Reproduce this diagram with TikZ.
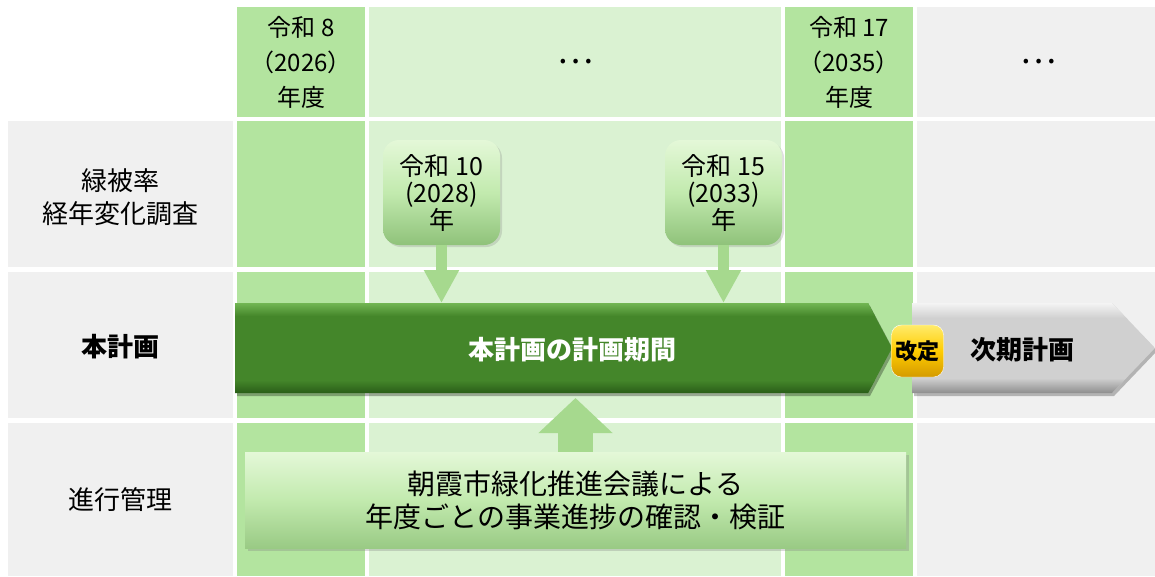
\documentclass[tikz,border=0pt]{standalone}
\usepackage{fontspec}
\setmainfont{Noto Sans CJK JP}
\usetikzlibrary{arrows.meta,shadows}

\definecolor{cellA}{HTML}{B3E49F}
\definecolor{cellB}{HTML}{DAF2D2}
\definecolor{cellG}{HTML}{F0F0F0}
\definecolor{barTop}{HTML}{72B653}
\definecolor{barMid}{HTML}{44862A}
\definecolor{barBot}{HTML}{2A5E18}
\definecolor{greyTop}{HTML}{F4F4F4}
\definecolor{greyMid}{HTML}{D0D0D0}
\definecolor{greyBot}{HTML}{8E8E8E}
\definecolor{calTop}{HTML}{E4F8D8}
\definecolor{calMid}{HTML}{C2EAAE}
\definecolor{calBot}{HTML}{8FC27A}
\definecolor{arrGreen}{HTML}{A6D98E}
\definecolor{goldTop}{HTML}{FFEB6B}
\definecolor{goldMid}{HTML}{FFCC00}
\definecolor{goldBot}{HTML}{D49A00}

\begin{document}
\begin{tikzpicture}[x=1pt, y=-1pt,
  yearhead/.style={font=\fontsize{24}{35}\selectfont, align=center},
  dots/.style={font=\fontsize{34}{36}\selectfont},
  rowlabel/.style={font=\fontsize{26}{33}\selectfont, align=center},
  barlabel/.style={font=\fontsize{26}{30}\selectfont\bfseries},
  callout/.style={rounded corners=16pt, minimum width=117pt, minimum height=105pt,
    top color=calTop, bottom color=calBot, middle color=calMid, inner sep=0pt,
    drop shadow={opacity=0.25, shadow xshift=2pt, shadow yshift=-2pt},
    font=\fontsize{25}{27}\selectfont, align=center},
  checkbox/.style={minimum width=661pt, minimum height=96pt,
    top color=calTop, bottom color=calBot!80!calMid, middle color=calMid,
    drop shadow={opacity=0.3, shadow xshift=3pt, shadow yshift=-3pt},
    font=\fontsize{28}{33}\selectfont, align=center},
  badge/.style={rounded corners=10pt, minimum size=52pt, inner sep=0pt,
    top color=goldTop, bottom color=goldBot, middle color=goldMid,
    draw=white, thin, font=\fontsize{22}{24}\selectfont\bfseries},
  downarr/.style={line width=11pt, draw=arrGreen, -{Triangle[width=33pt,length=33pt]}},
  uparr/.style={line width=35pt, draw=arrGreen, -{Triangle[width=72pt,length=35pt]}},
]
\useasboundingbox (0,0) rectangle (1155,576);

% table cells
\foreach \xa/\xb/\col in {237/365/cellA, 369/781/cellB, 785/913/cellA, 917/1155/cellG}
  \foreach \ya/\yb in {7/117, 121/267, 272/418, 423/576}
    \fill[\col] (\xa,\ya) rectangle (\xb,\yb);
\foreach \ya/\yb in {121/267, 272/418, 423/576}
  \fill[cellG] (8,\ya) rectangle (233,\yb);

\node[yearhead] (y2026) at (301,62) {令和 8\\（2026）\\年度};
\node[dots] (dotsA) at (575,62) {…};
\node[yearhead] (y2035) at (849,62) {令和 17\\（2035）\\年度};
\node[dots] (dotsB) at (1038,62) {…};

\node[rowlabel] (survey) at (120,197) {緑被率\\経年変化調査};
\node[rowlabel, font=\fontsize{26}{33}\selectfont\bfseries] (plan) at (120,347) {本計画};
\node[rowlabel] (manage) at (120,500) {進行管理};

% plan period
\fill[black, opacity=0.3] (237,306) -- (870,306) -- (894,351) -- (870,396) -- (237,396) -- cycle;
\begin{scope}
  \clip (235,303) -- (868,303) -- (892,348) -- (868,393) -- (235,393) -- cycle;
  \fill[barMid] (235,303) rectangle (892,393);
  \shade[top color=barTop, bottom color=barMid] (235,303) rectangle (892,316);
  \shade[top color=barMid, bottom color=barBot] (235,380) rectangle (892,393);
\end{scope}
\node[barlabel, white] (period) at (572,350) {本計画の計画期間};

% next plan
\fill[black, opacity=0.25] (914,306) -- (1114,306) -- (1157,351) -- (1114,396) -- (914,396) -- cycle;
\begin{scope}
  \clip (912,303) -- (1112,303) -- (1155,348) -- (1112,393) -- (912,393) -- cycle;
  \fill[greyMid] (912,303) rectangle (1155,393);
  \shade[top color=greyTop, bottom color=greyMid] (912,303) rectangle (1155,318);
  \shade[top color=greyMid, bottom color=greyBot] (912,378) rectangle (1155,393);
\end{scope}
\node[barlabel] (nextplan) at (1022,350) {次期計画};

\node[badge] (revise) at (917.5,351) {改定};

% surveys
\coordinate (bartop) at (0,303);
\coordinate (barbot) at (0,398);
\node[callout] (r10) at (441.5,192.5) {令和 10\\(2028)\\年};
\node[callout] (r15) at (723.5,192.5) {令和 15\\(2033)\\年};
\draw[downarr] (r10.south) -- (r10.south |- bartop);
\draw[downarr] (r15.south) -- (r15.south |- bartop);

% progress check
\node[checkbox] (check) at (575.5,500) {朝霞市緑化推進会議による\\年度ごとの事業進捗の確認・検証};
\draw[uparr] (check.north) -- (check.north |- barbot);
\end{tikzpicture}
\end{document}
